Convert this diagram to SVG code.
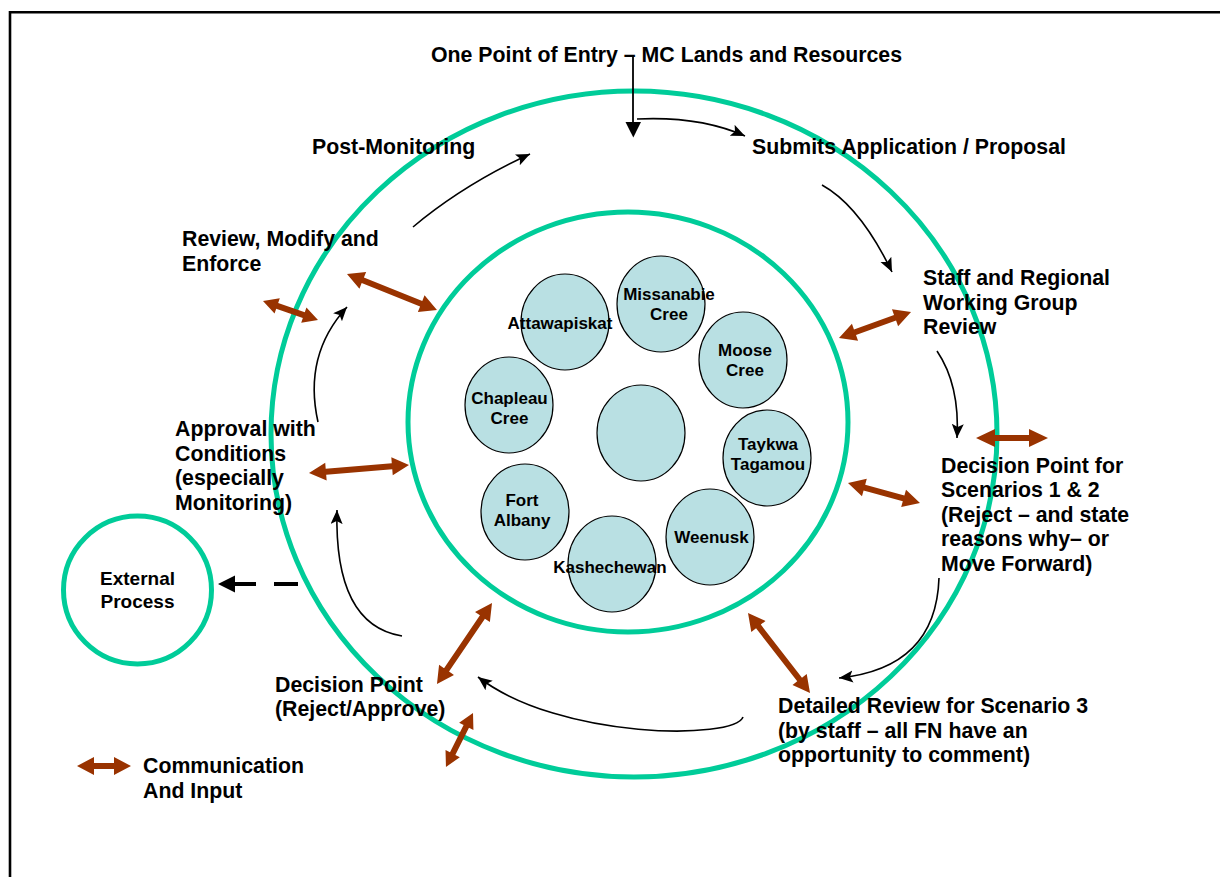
<svg xmlns="http://www.w3.org/2000/svg" width="1220" height="877" viewBox="0 0 1220 877">
<style>
text{font-family:"Liberation Sans",Arial,sans-serif;font-weight:bold;fill:#000}
.lbl{font-size:21.3px}
.ext{font-size:19px;text-anchor:middle}
.sm{font-size:17px;text-anchor:middle}
.ring{fill:none;stroke:#00CC99;stroke-width:5}
.fn{fill:#B9E0E3;stroke:#000;stroke-width:1.2}
.flow{fill:none;stroke:#000;stroke-width:1.6;marker-end:url(#ah)}
.comm{fill:#993300}
</style>
<defs>
<marker id="ah" markerUnits="userSpaceOnUse" markerWidth="15" markerHeight="13" refX="14" refY="6" orient="auto" viewBox="0 0 15 13">
<path d="M0,0 L14,6 L0,12 L3,6 z" fill="#000"/>
</marker>
</defs>
<rect width="1220" height="877" fill="#fff"/>
<path d="M10,877 L10,12.3 L1220,12.3" fill="none" stroke="#000" stroke-width="2.6"/>

<g id="rings">
<ellipse class="ring" cx="634" cy="434" rx="363" ry="343"/>
<ellipse class="ring" cx="628" cy="422" rx="220" ry="210"/>
</g>

<g id="fn-missanabie"><ellipse class="fn" cx="661" cy="304" rx="44" ry="48"/><text class="sm" x="669" y="300">Missanabie</text><text class="sm" x="669" y="319.5">Cree</text></g>
<g id="fn-attawapiskat"><ellipse class="fn" cx="565" cy="322" rx="44" ry="48"/><text class="sm" x="560" y="329">Attawapiskat</text></g>
<g id="fn-moose"><ellipse class="fn" cx="743" cy="360" rx="44" ry="48"/><text class="sm" x="745" y="356">Moose</text><text class="sm" x="745" y="375.5">Cree</text></g>
<g id="fn-chapleau"><ellipse class="fn" cx="509" cy="405" rx="44" ry="48"/><text class="sm" x="509.5" y="404">Chapleau</text><text class="sm" x="509.5" y="423.5">Cree</text></g>
<g id="fn-center"><ellipse class="fn" cx="641" cy="433" rx="44" ry="48"/></g>
<g id="fn-taykwa"><ellipse class="fn" cx="767" cy="458" rx="44" ry="48"/><text class="sm" x="768" y="450">Taykwa</text><text class="sm" x="768" y="469.5">Tagamou</text></g>
<g id="fn-fortalbany"><ellipse class="fn" cx="525" cy="512" rx="44" ry="48"/><text class="sm" x="522" y="506">Fort</text><text class="sm" x="522" y="526">Albany</text></g>
<g id="fn-weenusk"><ellipse class="fn" cx="710" cy="537" rx="44" ry="48"/><text class="sm" x="711.5" y="543">Weenusk</text></g>
<g id="fn-kashechewan"><ellipse class="fn" cx="612" cy="564" rx="44" ry="48"/><text class="sm" x="610" y="573">Kashechewan</text></g>

<g id="external"><circle cx="137.5" cy="590" r="74" fill="none" stroke="#00CC99" stroke-width="5"/><text class="ext" x="137.5" y="585">External</text><text class="ext" x="137.5" y="608">Process</text></g>

<g id="labels">
<text class="lbl" x="431" y="62">One Point of Entry – MC Lands and Resources</text>
<text class="lbl" x="312" y="154">Post-Monitoring</text>
<text class="lbl" x="752" y="154">Submits Application / Proposal</text>
<text class="lbl" x="182" y="246">Review, Modify and</text>
<text class="lbl" x="182" y="270.5">Enforce</text>
<text class="lbl" x="923" y="285">Staff and Regional</text>
<text class="lbl" x="923" y="309.5">Working Group</text>
<text class="lbl" x="923" y="334">Review</text>
<text class="lbl" x="941" y="472.5">Decision Point for</text>
<text class="lbl" x="941" y="497">Scenarios 1 &amp; 2</text>
<text class="lbl" x="941" y="521.5">(Reject – and state</text>
<text class="lbl" x="941" y="546">reasons why– or</text>
<text class="lbl" x="941" y="570.5">Move Forward)</text>
<text class="lbl" x="175" y="436">Approval with</text>
<text class="lbl" x="175" y="460.5">Conditions</text>
<text class="lbl" x="175" y="485">(especially</text>
<text class="lbl" x="175" y="509.5">Monitoring)</text>
<text class="lbl" x="275" y="692">Decision Point</text>
<text class="lbl" x="275" y="716">(Reject/Approve)</text>
<text class="lbl" x="778" y="713">Detailed Review for Scenario 3</text>
<text class="lbl" x="778" y="737.5">(by staff – all FN have an</text>
<text class="lbl" x="778" y="762">opportunity to comment)</text>
<text class="lbl" x="143" y="773">Communication</text>
<text class="lbl" x="143" y="798">And Input</text>
</g>

<g id="connectors">
<path d="M633,56 L633,124" stroke="#000" stroke-width="1.8" fill="none"/>
<polygon points="625.5,122 641,122 633.3,137.5" fill="#000"/>
<path class="flow" d="M637,119 Q700,116 745,136"/>
<path class="flow" d="M822,185 Q860,206 892,272"/>
<path class="flow" d="M937,351 Q960,385 957,438"/>
<path class="flow" d="M939,578 Q936,668 839,678"/>
<path class="flow" d="M743,717 C735,740 560,740 478,677"/>
<path class="flow" d="M402,636 Q334,625 337,510"/>
<path class="flow" d="M318,422 Q303,355 347,307"/>
<path class="flow" d="M413,227 Q463,185 530,154"/>
<polygon points="218,584 235,575.5 235,582 256,582 256,586 235,586 235,592.5" fill="#000"/>
<rect x="274" y="582" width="24" height="4" fill="#000"/>

<polygon class="comm" transform="translate(347,274) rotate(21.8)" points="0,0 17,-9 17,-3 79.9,-3 79.9,-9 96.9,0 79.9,9 79.9,3 17,3 17,9"/>
<polygon class="comm" transform="translate(263,301) rotate(19.1)" points="0,0 15,-8 15,-3 43.2,-3 43.2,-8 58.2,0 43.2,8 43.2,3 15,3 15,8"/>
<polygon class="comm" transform="translate(309,473) rotate(-4.6)" points="0,0 17,-9 17,-3 83.3,-3 83.3,-9 100.3,0 83.3,9 83.3,3 17,3 17,9"/>
<polygon class="comm" transform="translate(839,338) rotate(-19.9)" points="0,0 17,-9 17,-3 59.6,-3 59.6,-9 76.6,0 59.6,9 59.6,3 17,3 17,9"/>
<polygon class="comm" transform="translate(976,438)" points="0,0 19,-9 19,-3 53,-3 53,-9 72,0 53,9 53,3 19,3 19,9"/>
<polygon class="comm" transform="translate(848,483) rotate(15.5)" points="0,0 17,-9 17,-3 57.7,-3 57.7,-9 74.7,0 57.7,9 57.7,3 17,3 17,9"/>
<polygon class="comm" transform="translate(748,613) rotate(52.2)" points="0,0 17,-9 17,-3 84.2,-3 84.2,-9 101.2,0 84.2,9 84.2,3 17,3 17,9"/>
<polygon class="comm" transform="translate(492,603) rotate(124.2)" points="0,0 17,-9 17,-3 80.9,-3 80.9,-9 97.9,0 80.9,9 80.9,3 17,3 17,9"/>
<polygon class="comm" transform="translate(473,713) rotate(116.6)" points="0,0 15,-8 15,-3 45.4,-3 45.4,-8 60.4,0 45.4,8 45.4,3 15,3 15,8"/>
<polygon class="comm" transform="translate(77,766)" points="0,0 17,-9 17,-3 37,-3 37,-9 54,0 37,9 37,3 17,3 17,9"/>
</g>
</svg>
